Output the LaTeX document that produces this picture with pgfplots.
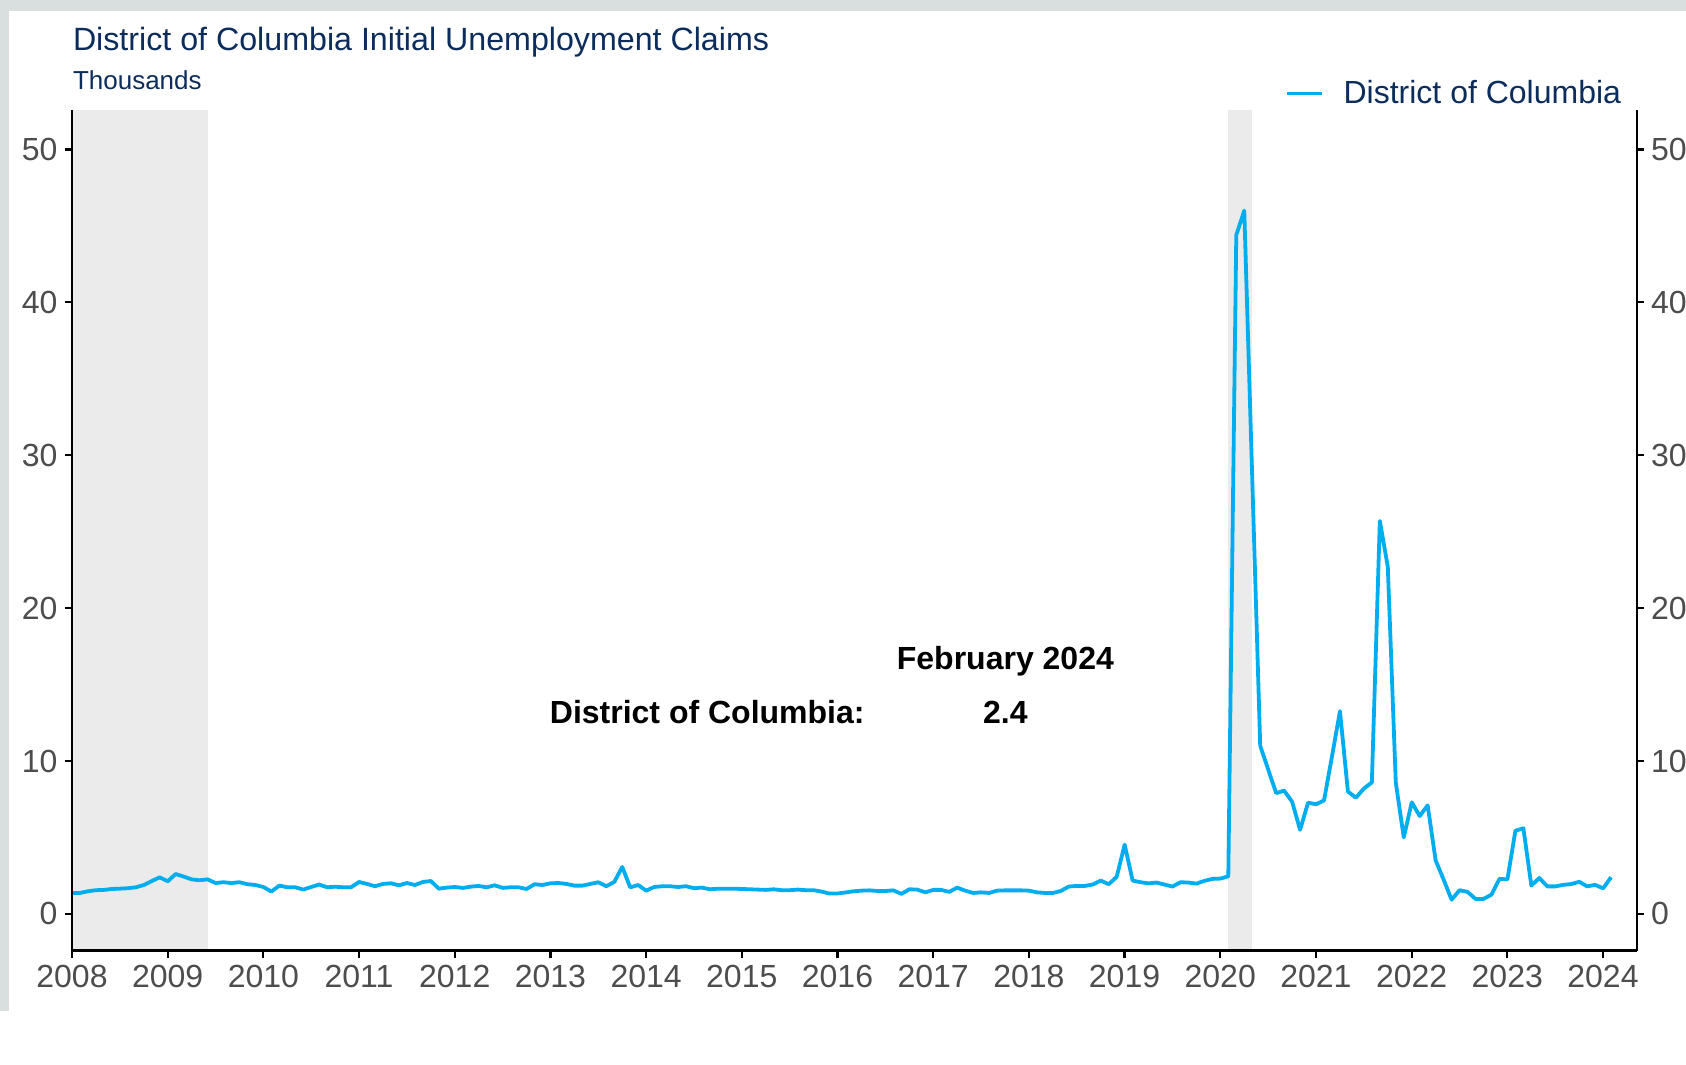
\documentclass[border=0pt]{standalone}
\usepackage{fontspec}
\setmainfont{Liberation Sans}
\usepackage{pgfplots}
\usepackage{pgfplotstable}
\pgfplotsset{compat=1.18}

\definecolor{dcblue}{RGB}{0,174,239}
\definecolor{navy}{RGB}{12,45,92}
\definecolor{tickgray}{RGB}{77,77,77}
\definecolor{recgray}{RGB}{235,235,235}
\definecolor{framegray}{RGB}{217,222,223}

% initial claims, thousands, monthly
\pgfplotstableread{
year month claims
2008 1 1.37
2008 2 1.37
2008 3 1.48
2008 4 1.55
2008 5 1.57
2008 6 1.63
2008 7 1.65
2008 8 1.68
2008 9 1.74
2008 10 1.89
2008 11 2.15
2008 12 2.39
2009 1 2.13
2009 2 2.61
2009 3 2.44
2009 4 2.26
2009 5 2.20
2009 6 2.26
2009 7 2.02
2009 8 2.07
2009 9 2.02
2009 10 2.07
2009 11 1.94
2009 12 1.89
2010 1 1.76
2010 2 1.46
2010 3 1.85
2010 4 1.74
2010 5 1.74
2010 6 1.59
2010 7 1.76
2010 8 1.92
2010 9 1.74
2010 10 1.78
2010 11 1.74
2010 12 1.74
2011 1 2.09
2011 2 1.96
2011 3 1.81
2011 4 1.96
2011 5 2.00
2011 6 1.87
2011 7 2.02
2011 8 1.89
2011 9 2.09
2011 10 2.15
2011 11 1.65
2011 12 1.72
2012 1 1.76
2012 2 1.70
2012 3 1.78
2012 4 1.83
2012 5 1.74
2012 6 1.87
2012 7 1.70
2012 8 1.74
2012 9 1.74
2012 10 1.63
2012 11 1.94
2012 12 1.89
2013 1 2.00
2013 2 2.02
2013 3 1.96
2013 4 1.85
2013 5 1.85
2013 6 1.96
2013 7 2.07
2013 8 1.81
2013 9 2.09
2013 10 3.07
2013 11 1.74
2013 12 1.89
2014 1 1.52
2014 2 1.76
2014 3 1.81
2014 4 1.81
2014 5 1.76
2014 6 1.81
2014 7 1.68
2014 8 1.72
2014 9 1.61
2014 10 1.65
2014 11 1.65
2014 12 1.65
2015 1 1.63
2015 2 1.61
2015 3 1.59
2015 4 1.57
2015 5 1.61
2015 6 1.55
2015 7 1.55
2015 8 1.59
2015 9 1.55
2015 10 1.55
2015 11 1.46
2015 12 1.33
2016 1 1.34
2016 2 1.40
2016 3 1.48
2016 4 1.52
2016 5 1.54
2016 6 1.50
2016 7 1.50
2016 8 1.54
2016 9 1.31
2016 10 1.61
2016 11 1.59
2016 12 1.41
2017 1 1.57
2017 2 1.57
2017 3 1.44
2017 4 1.72
2017 5 1.52
2017 6 1.37
2017 7 1.41
2017 8 1.37
2017 9 1.52
2017 10 1.54
2017 11 1.54
2017 12 1.54
2018 1 1.52
2018 2 1.41
2018 3 1.37
2018 4 1.37
2018 5 1.50
2018 6 1.79
2018 7 1.83
2018 8 1.83
2018 9 1.92
2018 10 2.18
2018 11 1.94
2018 12 2.42
2019 1 4.53
2019 2 2.18
2019 3 2.07
2019 4 2.00
2019 5 2.05
2019 6 1.92
2019 7 1.79
2019 8 2.07
2019 9 2.05
2019 10 1.98
2019 11 2.16
2019 12 2.29
2020 1 2.31
2020 2 2.46
2020 3 44.4
2020 4 46.0
2020 5 28.5
2020 6 11.0
2020 7 9.45
2020 8 7.90
2020 9 8.06
2020 10 7.34
2020 11 5.50
2020 12 7.27
2021 1 7.17
2021 2 7.42
2021 3 10.3
2021 4 13.26
2021 5 8.00
2021 6 7.60
2021 7 8.20
2021 8 8.60
2021 9 25.7
2021 10 22.7
2021 11 8.60
2021 12 5.00
2022 1 7.30
2022 2 6.40
2022 3 7.10
2022 4 3.50
2022 5 2.24
2022 6 0.93
2022 7 1.55
2022 8 1.44
2022 9 0.98
2022 10 0.98
2022 11 1.26
2022 12 2.29
2023 1 2.26
2023 2 5.44
2023 3 5.60
2023 4 1.85
2023 5 2.35
2023 6 1.80
2023 7 1.80
2023 8 1.90
2023 9 1.95
2023 10 2.10
2023 11 1.80
2023 12 1.90
2024 1 1.67
2024 2 2.40
}\claims

\begin{document}
\begin{tikzpicture}
% page background and frame strips
\fill[white] (0pt,0pt) rectangle (843pt,532.5pt);
\fill[framegray] (0pt,527.1pt) rectangle (843pt,532.5pt);
\fill[framegray] (0pt,27pt) rectangle (4.3pt,532.5pt);

\begin{axis}[
  at={(36pt,57.2pt)}, anchor=south west,
  scale only axis, width=782.3pt, height=420.45pt,
  xmin=2008, xmax=2024.35, ymin=-2.4, ymax=52.6,
  axis x line*=bottom, axis y line*=left,
  axis line style={-, black, line width=1.1pt},
  tick align=outside, major tick length=3.75pt,
  every tick/.style={black, line width=1.1pt},
  xtick={2008,...,2024}, ytick={0,10,...,50},
  scaled ticks=false,
  ticklabel style={font=\fontsize{16}{19}\selectfont, text=tickgray,
    /pgf/number format/assume math mode=true},
  xticklabel style={/pgf/number format/1000 sep={}},
  axis on top,
  legend style={at={(axis description cs:0.9903,1.0193)}, anchor=east,
    draw=none, fill=none, inner sep=0pt, column sep=10pt,
    nodes={inner sep=0pt, text=navy, font=\fontsize{16}{19}\selectfont}},
  legend image code/.code={\draw[line width=1.9pt] (0pt,0pt) -- (17.5pt,0pt);},
]
% recession shading
\addplot[draw=none, fill=recgray, forget plot] coordinates
  {(2008,-2.4) (2008,52.6) (2009.417,52.6) (2009.417,-2.4)} -- cycle;
\addplot[draw=none, fill=recgray, forget plot] coordinates
  {(2020.083,-2.4) (2020.083,52.6) (2020.333,52.6) (2020.333,-2.4)} -- cycle;

\addplot[dcblue, line width=1.9pt, line join=round, mark=none]
  table[x expr=\thisrow{year}+(\thisrow{month}-1)/12, y=claims] {\claims};
\addlegendentry{District of Columbia}
\end{axis}

% right-hand axis
\begin{axis}[
  at={(36pt,57.2pt)}, anchor=south west,
  scale only axis, width=782.3pt, height=420.45pt,
  xmin=2008, xmax=2024.35, ymin=-2.4, ymax=52.6,
  axis x line=none, axis y line*=right,
  axis line style={-, black, line width=1.1pt},
  tick align=outside, major tick length=3.75pt,
  every tick/.style={black, line width=1.1pt},
  ytick={0,10,...,50},
  ticklabel style={font=\fontsize{16}{19}\selectfont, text=tickgray,
    /pgf/number format/assume math mode=true},
]
\end{axis}

% titles
\node[anchor=base west, inner sep=0pt, text=navy, font=\fontsize{16.1}{19}\selectfont]
  at (36.3pt,507.25pt) {District of Columbia Initial Unemployment Claims};
\node[anchor=base west, inner sep=0pt, text=navy, font=\fontsize{13}{16}\selectfont]
  at (36.3pt,487.55pt) {Thousands};

% latest value annotation
\node[anchor=base, inner sep=0pt, font=\bfseries\fontsize{16}{19}\selectfont]
  at (502.7pt,197.75pt) {February 2024};
\node[anchor=base west, inner sep=0pt, font=\bfseries\fontsize{16}{19}\selectfont]
  at (274.75pt,170.85pt) {District of Columbia:};
\node[anchor=base, inner sep=0pt, font=\bfseries\fontsize{16}{19}\selectfont]
  at (502.7pt,170.85pt) {2.4};

% page size as in the reference
\pgfresetboundingbox
\path (0pt,0pt) rectangle (843pt,532.5pt);
\end{tikzpicture}
\end{document}
